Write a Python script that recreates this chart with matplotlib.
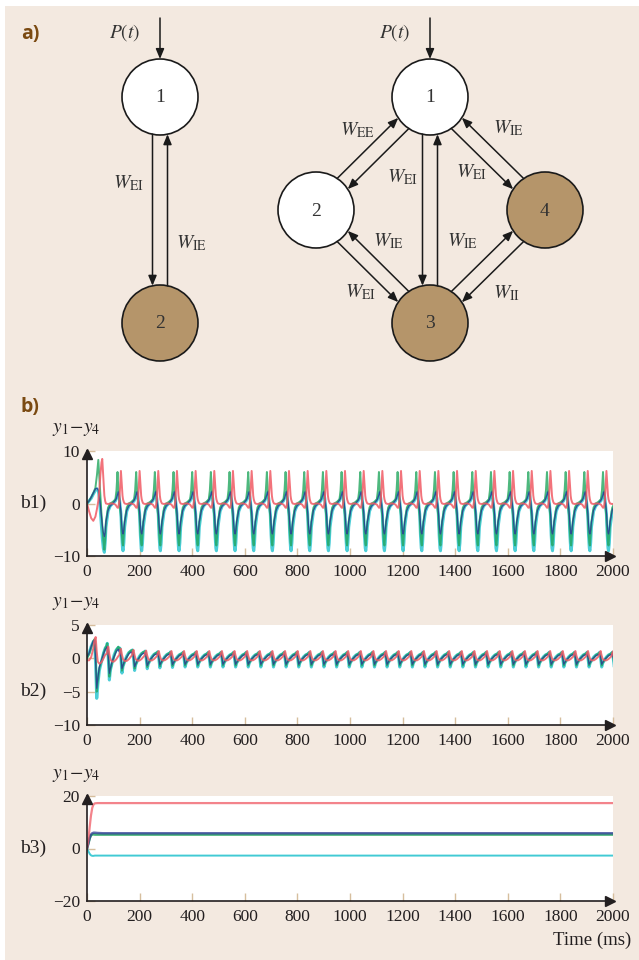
import matplotlib.pyplot as plt
from matplotlib.patches import Circle, Rectangle
from matplotlib.transforms import offset_copy
import numpy as np

plt.rcParams['font.family'] = ['Liberation Serif', 'DejaVu Serif']
plt.rcParams['mathtext.fontset'] = 'stix'

W, H = 639, 960
BG = '#F3E9E0'
INK = '#231F20'
TAN = '#D6BE9E'
BROWN = '#B5956A'
TAG = '#7A4A12'
RED, GREEN, CYAN, NAVY = '#F05A64', '#22A65E', '#2CC5D0', '#2B3A94'

# ---- b1: sustained oscillation ----------------------------------------
# first 70 ms, then one period repeated
b1_onset_t = [0, 8, 16, 24, 32, 38, 43, 47, 51, 55, 58, 62, 66, 69]
b1_onset_red = [0, -1.5, -2.8, -3.3, -2.5, -1.0, 0.5, 2.5, 5.5, 7.8, 8.5, 5.0, 1.5, 0.5]
b1_onset_green = [0, 0.5, 1.2, 2.0, 3.0, 5.5, 8.3, 5.0, 1.5, -2.0, -4.0, -7.0, -8.8, -7.0]
b1_onset_cyan = [0, 0.5, 1.0, 1.8, 2.5, 2.8, 2.5, 1.0, -1.5, -4.5, -6.5, -8.5, -9.3, -7.5]
b1_onset_navy = [0, 0.5, 1.2, 2.0, 2.8, 2.9, 2.5, 1.2, -0.5, -2.5, -4.0, -5.5, -6.3, -5.5]

b1_start = 72
b1_period = 71
b1_phase = [0, 8, 16, 26, 36, 40, 44, 47, 51, 54, 57, 60, 63, 65, 68]
b1_red = [0.0, -0.1, 0.0, 0.0, -0.2, -0.5, -0.8, -0.8, 0.5, 3.5, 6.2, 4.0, 1.5, 0.8, 0.3]
b1_green = [-3.5, -0.8, 0.0, 0.3, 0.8, 2.5, 6.0, 3.0, 0.5, -1.0, -2.5, -5.5, -7.5, -8.0, -6.0]
b1_cyan = [-4.5, -1.5, -0.5, 0.0, 0.5, 1.0, 1.5, 2.2, 1.0, -0.5, -2.0, -6.0, -8.5, -9.0, -7.5]
b1_navy = [-3.5, -1.3, -0.5, 0.0, 0.6, 1.0, 1.7, 2.2, 1.2, 0.0, -1.5, -4.0, -5.5, -5.8, -5.0]

# ---- b2: damped oscillation -------------------------------------------
b2_onset_t = [0, 8, 16, 24, 29, 33, 37, 41, 47, 55, 63, 70]
b2_onset_red = [-0.3, -0.3, 0.2, 1.5, 2.8, 3.2, 1.0, -0.5, -0.8, -0.6, 0.0, 0.6]
b2_onset_green = [0.0, 0.6, 1.6, 2.6, 2.9, 0.5, -5.0, -3.5, -1.5, -0.4, 0.8, 1.6]
b2_onset_cyan = [0.3, 0.8, 1.8, 2.5, 2.6, -1.0, -6.0, -4.0, -1.8, -0.5, 0.8, 1.6]
b2_onset_navy = [0.2, 0.8, 1.8, 2.6, 2.7, -0.5, -4.5, -3.0, -1.3, -0.3, 0.7, 1.4]

b2_start = 75
b2_period = 48
b2_phase = [0, 2, 6, 10, 14, 20, 28, 36, 44]
b2_red = [0.4, 0.8, 1.1, 0.4, -0.1, -0.3, -0.3, -0.1, 0.2]
b2_green = [0.8, 0.9, 0.2, -1.1, -0.7, -0.3, 0.1, 0.5, 0.7]
b2_cyan = [0.7, 0.9, 0.0, -1.3, -0.7, -0.3, 0.2, 0.5, 0.65]
b2_navy = [0.6, 0.7, 0.1, -0.9, -0.6, -0.2, 0.1, 0.4, 0.55]
b2_gain = [2.5, 1.7, 1.4, 1.2, 1.1, 1.05]
b2_red_gain = [1.6, 1.3, 1.15, 1.05]

# ---- b3: fixed point ---------------------------------------------------
b3_t = [0, 5, 10, 15, 20, 25, 30, 40, 60, 2000]
b3_red = [0, 3, 8, 12.5, 15.5, 16.8, 17.2, 17.3, 17.3, 17.3]
b3_green = [0, 1.8, 3.8, 5.0, 5.3, 5.4, 5.3, 5.3, 5.3, 5.3]
b3_cyan = [0, -1.0, -2.0, -2.6, -2.8, -2.8, -2.7, -2.7, -2.7, -2.7]
b3_navy = [0, 2.0, 4.0, 5.3, 5.8, 6.0, 6.0, 5.9, 5.8, 5.8]

x_ticks = [0, 200, 400, 600, 800, 1000, 1200, 1400, 1600, 1800, 2000]


def periodic(onset_t, onset_v, start, period, phase, cycle, gains=()):
    t, v = list(onset_t), list(onset_v)
    k = 0
    while start + k * period < 2000:
        g = gains[k] if k < len(gains) else 1.0
        t += [start + k * period + p for p in phase]
        v += [g * c for c in cycle]
        k += 1
    return np.array(t), np.array(v)


fig = plt.figure(figsize=(W / 100, H / 100), dpi=100)
fig.patch.set_facecolor('white')

# background + network diagrams, drawn in pixel coordinates
bg = fig.add_axes([0, 0, 1, 1])
bg.set_xlim(0, W)
bg.set_ylim(H, 0)
bg.axis('off')
bg.add_patch(Rectangle((5, 6), W - 5, H - 6, color=BG, lw=0))

R = 38
nodes = {'L1': (160, 97), 'L2': (160, 323),
         'R1': (430, 97), 'R2': (316, 210), 'R3': (430, 323), 'R4': (545, 210)}
fills = {'L1': 'white', 'L2': BROWN, 'R1': 'white', 'R2': 'white', 'R3': BROWN, 'R4': BROWN}
for key, (cx, cy) in nodes.items():
    bg.add_patch(Circle((cx, cy), R, facecolor=fills[key], edgecolor='#1a1a1a', lw=1.2, zorder=3))
    bg.text(cx, cy + 1, key[1], ha='center', va='center', fontsize=14, color='#333333', zorder=4)

aprops = dict(arrowstyle='-|>,head_length=0.6,head_width=0.25', color='#1a1a1a',
              lw=1.1, mutation_scale=10, shrinkA=0, shrinkB=0)

edges = [('L1', 'L2', -1), ('L2', 'L1', -1),
         ('R1', 'R3', -1), ('R3', 'R1', -1),
         ('R1', 'R2', 1), ('R2', 'R1', 1),
         ('R1', 'R4', -1), ('R4', 'R1', -1),
         ('R3', 'R2', -1), ('R2', 'R3', -1),
         ('R3', 'R4', 1), ('R4', 'R3', 1)]
off = 7.5
along = np.sqrt(R ** 2 - off ** 2)
for a, b, s in edges:
    pa, pb = np.array(nodes[a], float), np.array(nodes[b], float)
    u = (pb - pa) / np.linalg.norm(pb - pa)
    n = s * off * np.array([u[1], -u[0]])
    bg.annotate('', xy=pb + n - u * along, xytext=pa + n + u * along, arrowprops=aprops)

for cx in (160, 430):
    bg.annotate('', xy=(cx, 97 - R), xytext=(cx, 18), arrowprops=aprops)
    bg.text(cx - 35, 33, r'$P(t)$', ha='center', va='center', fontsize=14, color='#333333')

weights = [('EI', 128, 183), ('IE', 191, 243),
           ('EE', 357, 130), ('EI', 402, 177), ('EI', 471, 172), ('IE', 508, 128),
           ('IE', 388, 241), ('IE', 462, 241), ('EI', 360, 292), ('II', 507, 293)]
for sub, x, y in weights:
    bg.text(x, y, r'$W_{\mathrm{%s}}$' % sub, ha='center', va='center', fontsize=14, color='#333333')

bg.text(21, 34, 'a)', ha='left', va='center', fontsize=14, fontweight='bold',
        family='Open Sans', color=TAG)
bg.text(21, 407, 'b)', ha='left', va='center', fontsize=14, fontweight='bold',
        family='Open Sans', color=TAG)


def panel(top, bottom, ylim, yticks, lines, tag):
    ax = fig.add_axes([87 / W, 1 - bottom / H, 526 / W, (bottom - top) / H])
    ax.set_facecolor('white')
    for t, v, c, lw, al in lines:
        ax.plot(t, v, color=c, lw=lw, alpha=al, solid_joinstyle='round')
    ax.set_xlim(0, 2000)
    ax.set_ylim(*ylim)
    ax.set_xticks(x_ticks)
    ax.set_yticks(yticks)
    for side in ('top', 'right'):
        ax.spines[side].set_visible(False)
    for side in ('left', 'bottom'):
        ax.spines[side].set_color(INK)
        ax.spines[side].set_linewidth(1.2)
    ax.tick_params(direction='in', length=6, width=1, color=TAN,
                   labelsize=12.5, labelcolor=INK, pad=5)
    ax.tick_params(axis='x', pad=6)
    ax.plot([0], [1], marker='^', ms=7, color=INK, clip_on=False,
            transform=offset_copy(ax.transAxes, fig, y=-3, units='dots'))
    ax.plot([1], [0], marker='>', ms=7, color=INK, clip_on=False,
            transform=offset_copy(ax.transAxes, fig, x=-3, units='dots'))
    bg.text(76, top - 21, r'$y_1\!-\!y_4$', ha='center', va='center', fontsize=14, color=INK)
    bg.text(20, (top + bottom) / 2 - 0.5 * (bottom - top) * (ylim[1] + ylim[0]) / (ylim[1] - ylim[0]),
            tag, ha='left', va='center', fontsize=14, color=INK)
    return ax


def four(onset_t, onsets, start, period, phase, cycles, gains):
    out = []
    for name, c, lw, al in (('cyan', CYAN, 2.2, 0.85), ('green', GREEN, 1.4, 0.8),
                            ('navy', NAVY, 0.9, 0.85), ('red', RED, 1.4, 0.85)):
        t, v = periodic(onset_t, onsets[name], start, period, phase, cycles[name], gains[name])
        out.append((t, v, c, lw, al))
    return out


b1_lines = four(b1_onset_t,
                dict(red=b1_onset_red, green=b1_onset_green, cyan=b1_onset_cyan, navy=b1_onset_navy),
                b1_start, b1_period, b1_phase,
                dict(red=b1_red, green=b1_green, cyan=b1_cyan, navy=b1_navy),
                dict(red=(), green=(), cyan=(), navy=()))
panel(451, 556, (-10, 10), [-10, 0, 10], b1_lines, 'b1)')

b2_lines = four(b2_onset_t,
                dict(red=b2_onset_red, green=b2_onset_green, cyan=b2_onset_cyan, navy=b2_onset_navy),
                b2_start, b2_period, b2_phase,
                dict(red=b2_red, green=b2_green, cyan=b2_cyan, navy=b2_navy),
                dict(red=b2_red_gain, green=b2_gain, cyan=b2_gain, navy=b2_gain))
panel(625, 725, (-10, 5), [-10, -5, 0, 5], b2_lines, 'b2)')

b3_lines = [(b3_t, b3_green, GREEN, 1.8, 0.85), (b3_t, b3_navy, NAVY, 1.8, 0.75),
            (b3_t, b3_cyan, CYAN, 1.4, 0.9), (b3_t, b3_red, RED, 1.6, 0.75)]
panel(796, 901, (-20, 20), [-20, 0, 20], b3_lines, 'b3)')

bg.text(631, 940, 'Time (ms)', ha='right', va='center', fontsize=13.5, color=INK)

fig.savefig('out.png', dpi=100, facecolor=fig.get_facecolor())
